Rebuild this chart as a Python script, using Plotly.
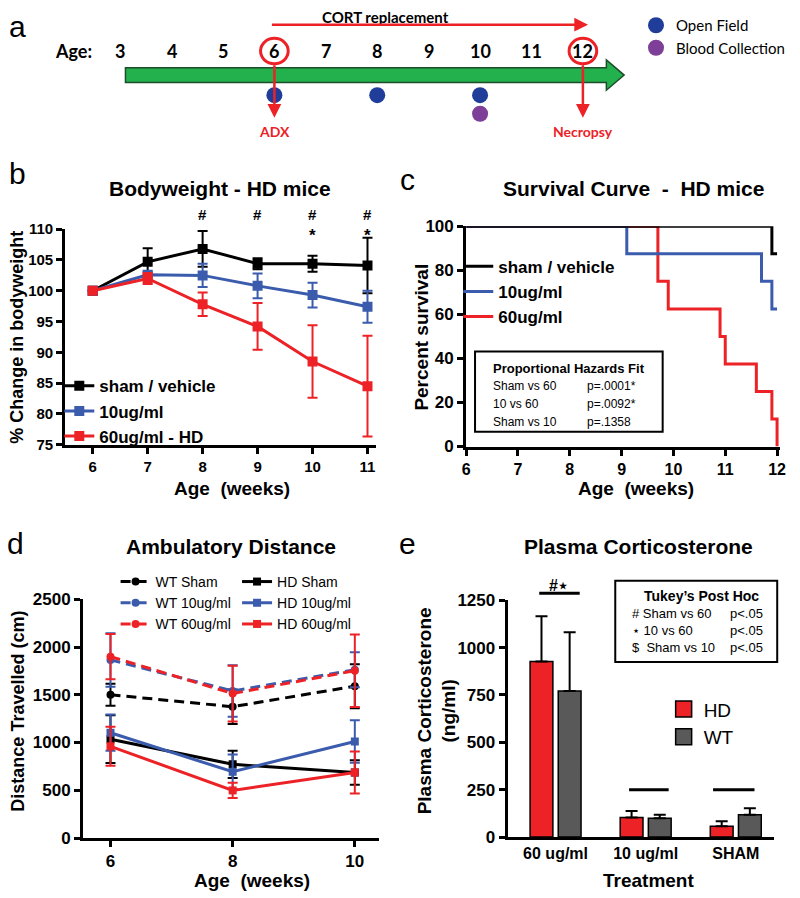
import plotly.graph_objects as go

W, H = 800, 898
def px(x): return x / W
def py(y): return 1 - y / H

FONT = "Liberation Sans, Arial, sans-serif"
FONT_A = "Lato, Open Sans, sans-serif"
RED = "#ec2227"
BLUE = "#3b5bad"
BLACK = "#000000"
GRAY = "#595959"
GREEN = "#22b14c"
DOT_BLUE = "#1f3d99"
PURPLE = "#7e3f98"

# ---------------- data ----------------
# a: timeline
timeline_ages = [3, 4, 5, 6, 7, 8, 9, 10, 11, 12]
open_field_ages = [6, 8, 10]
blood_ages = [10]
adx_age = 6
necropsy_age = 12

# b: bodyweight
bw_weeks = [6, 7, 8, 9, 10, 11]
bw_sham = [100, 104.7, 106.8, 104.4, 104.4, 104.1]
bw_sham_err = [0, 2.2, 2.9, 0.9, 1.3, 4.5]
bw_10 = [100, 102.6, 102.5, 100.8, 99.3, 97.4]
bw_10_err = [0, 0.5, 1.9, 2.0, 2.0, 2.6]
bw_60 = [100, 102.0, 97.8, 94.2, 88.5, 84.5]
bw_60_err = [0, 0.9, 1.9, 3.8, 5.9, 8.2]
bw_hash_weeks = [8, 9, 10, 11]
bw_star_weeks = [10, 11]

# c: survival
surv_sham_t = [6, 11.9, 12]
surv_sham = [100, 87.5, 87.5]
surv_10_t = [6, 9.1, 11.7, 11.9, 12]
surv_10 = [100, 87.5, 75, 62.5, 62.5]
surv_60_t = [6, 9.7, 9.9, 10.9, 11.0, 11.6, 11.9, 12.0]
surv_60 = [100, 75, 62.5, 50, 37.5, 25, 12.5, 0]
hazard_labels = ["Sham vs 60", "10 vs 60", "Sham vs 10"]
hazard_pvals = ["p=.0001*", "p=.0092*", "p=.1358"]

# d: ambulatory distance
amb_weeks = [6, 8, 10]
wt_sham = [1500, 1375, 1590]; wt_sham_err = [115, 180, 230]
wt_10 = [1865, 1540, 1762]; wt_10_err = [280, 270, 182]
wt_60 = [1899, 1513, 1752]; wt_60_err = [236, 292, 380]
hd_sham = [1035, 772, 686]; hd_sham_err = [250, 143, 128]
hd_10 = [1103, 694, 1011]; hd_10_err = [190, 180, 222]
hd_60 = [960, 499, 686]; hd_60_err = [204, 79, 220]

# e: plasma corticosterone
cort_groups = ["60 ug/ml", "10 ug/ml", "SHAM"]
cort_hd = [926, 103, 57]; cort_hd_err = [240, 35, 26]
cort_wt = [771, 100, 118]; cort_wt_err = [310, 18, 34]
tukey_labels = ["# Sham vs 60", "\u22c6 10 vs 60", "$\u00a0 Sham vs 10"]
tukey_pvals = ["p<.05", "p<.05", "p<.05"]

# ---------------- figure ----------------
fig = go.Figure()

# panel a mapping: age -> pixel (linear)
A_SLOPE = 52.07
A_X3 = 117.6
def age_at(pxv):
    return 3 + (pxv - A_X3) / A_SLOPE

fig.add_trace(go.Scatter(x=open_field_ages, y=[88] * len(open_field_ages), mode="markers",
                         marker=dict(size=16, color=DOT_BLUE), name="Open Field",
                         xaxis="x", yaxis="y", legend="legend"))
fig.add_trace(go.Scatter(x=blood_ages, y=[107] * len(blood_ages), mode="markers",
                         marker=dict(size=16, color=PURPLE), name="Blood Collection",
                         xaxis="x", yaxis="y", legend="legend"))

# panel b
def err(arr, color):
    return dict(type="data", array=arr, visible=True, color=color, thickness=2, width=5)

for name, ys, es, col in [("sham / vehicle", bw_sham, bw_sham_err, BLACK),
                          ("10ug/ml", bw_10, bw_10_err, BLUE),
                          ("60ug/ml - HD", bw_60, bw_60_err, RED)]:
    fig.add_trace(go.Scatter(x=bw_weeks, y=ys, error_y=err(es, col), mode="lines+markers",
                             line=dict(color=col, width=3),
                             marker=dict(symbol="square", size=10, color=col),
                             name=name, xaxis="x2", yaxis="y2", legend="legend2"))

# panel c
for name, xs, ys, col, rank in [("60ug/ml", surv_60_t, surv_60, RED, 3),
                                ("10ug/ml", surv_10_t, surv_10, BLUE, 2),
                                ("sham / vehicle", surv_sham_t, surv_sham, BLACK, 1)]:
    fig.add_trace(go.Scatter(x=xs, y=ys, mode="lines", line=dict(color=col, width=3, shape="hv"),
                             name=name, xaxis="x3", yaxis="y3", legend="legend3", legendrank=rank))

# panel d
for name, ys, es, col, dash, sym, lg in [
        ("WT Sham", wt_sham, wt_sham_err, BLACK, "10px,6px", "circle", "legend4"),
        ("WT 10ug/ml", wt_10, wt_10_err, BLUE, "10px,6px", "circle", "legend4"),
        ("WT 60ug/ml", wt_60, wt_60_err, RED, "10px,6px", "circle", "legend4"),
        ("HD Sham", hd_sham, hd_sham_err, BLACK, "solid", "square", "legend5"),
        ("HD 10ug/ml", hd_10, hd_10_err, BLUE, "solid", "square", "legend5"),
        ("HD 60ug/ml", hd_60, hd_60_err, RED, "solid", "square", "legend5")]:
    fig.add_trace(go.Scatter(x=amb_weeks, y=ys, error_y=err(es, col), mode="lines+markers",
                             line=dict(color=col, width=3, dash=dash),
                             marker=dict(symbol=sym, size=8, color=col),
                             name=name, xaxis="x4", yaxis="y4", legend=lg))

# panel e
fig.add_trace(go.Bar(x=cort_groups, y=cort_hd, name="HD", marker=dict(color=RED, line=dict(color="black", width=1.5)),
                     error_y=dict(type="data", array=cort_hd_err, arrayminus=[0] * 3, symmetric=False,
                                  color="black", thickness=2, width=6),
                     xaxis="x5", yaxis="y5", showlegend=False))
fig.add_trace(go.Bar(x=cort_groups, y=cort_wt, name="WT", marker=dict(color=GRAY, line=dict(color="black", width=1.5)),
                     error_y=dict(type="data", array=cort_wt_err, arrayminus=[0] * 3, symmetric=False,
                                  color="black", thickness=2, width=6),
                     xaxis="x5", yaxis="y5", showlegend=False))
for name, col in [("HD", RED), ("WT", GRAY)]:
    fig.add_trace(go.Scatter(x=[None], y=[None], mode="markers", name=name,
                             marker=dict(symbol="square", size=16, color=col, line=dict(color="black", width=1.5)),
                             xaxis="x5", yaxis="y5", legend="legend6"))

# ---------------- axes ----------------
def axstyle(size, **kw):
    d = dict(showline=True, linewidth=3, linecolor="black", ticks="outside", ticklen=6, tickwidth=2.5,
             tickcolor="black", showgrid=False, zeroline=False,
             tickfont=dict(family=FONT, size=size, color="black", weight="bold"))
    d.update(kw)
    return d

layout = dict(
    width=W, height=H, margin=dict(l=0, r=0, t=0, b=0),
    paper_bgcolor="white", plot_bgcolor="rgba(0,0,0,0)",
    barmode="group", bargap=0.375, bargroupgap=0.19,
    font=dict(family=FONT, color="black"),
    xaxis=dict(domain=[0, 1], range=[age_at(0), age_at(W)], visible=False, fixedrange=True),
    yaxis=dict(domain=[py(135), 1], range=[135, 0], visible=False, fixedrange=True),
    xaxis2=axstyle(15, domain=[px(62), px(377)], range=[5.5, 11.16], anchor="y2",
                   tickvals=[6, 7, 8, 9, 10, 11]),
    yaxis2=axstyle(15, domain=[py(445), py(225)], range=[75, 110], anchor="x2",
                   tickvals=[75, 80, 85, 90, 95, 100, 105, 110]),
    xaxis3=axstyle(16, domain=[px(468), px(786)], range=[6, 12.06], anchor="y3",
                   tickvals=[6, 7, 8, 9, 10, 11, 12]),
    yaxis3=axstyle(17, domain=[py(447), py(222)], range=[0, 100], anchor="x3",
                   tickvals=[0, 20, 40, 60, 80, 100]),
    xaxis4=axstyle(17, domain=[px(80), px(380)], range=[5.55, 10.4], anchor="y4",
                   tickvals=[6, 8, 10]),
    yaxis4=axstyle(17, domain=[py(847), py(603)], range=[0, 2500], anchor="x4",
                   tickvals=[0, 500, 1000, 1500, 2000, 2500]),
    xaxis5=axstyle(16, domain=[px(510), px(780)], range=[-0.532, 2.427], anchor="y5",
                   type="category", ticks=""),
    yaxis5=axstyle(17, domain=[py(846), py(604)], range=[0, 1250], anchor="x5",
                   tickvals=[0, 250, 500, 750, 1000, 1250]),
    legend=dict(x=px(640), y=1.0, xanchor="left", yanchor="top", bgcolor="rgba(0,0,0,0)",
                font=dict(family=FONT_A, size=15), tracegroupgap=0),
    legend2=dict(x=px(56), y=py(367), xanchor="left", yanchor="top", bgcolor="rgba(0,0,0,0)",
                 font=dict(family=FONT, size=17, weight="bold")),
    legend3=dict(x=px(460), y=py(245), xanchor="left", yanchor="top", bgcolor="rgba(0,0,0,0)",
                 font=dict(family=FONT, size=17, weight="bold")),
    legend4=dict(x=px(113), y=py(569), xanchor="left", yanchor="top", bgcolor="rgba(0,0,0,0)",
                 font=dict(family=FONT, size=14)),
    legend5=dict(x=px(236), y=py(569), xanchor="left", yanchor="top", bgcolor="rgba(0,0,0,0)",
                 font=dict(family=FONT, size=14)),
    legend6=dict(x=px(668), y=py(696), xanchor="left", yanchor="top", bgcolor="rgba(0,0,0,0)",
                 font=dict(family=FONT, size=19)),
    showlegend=True,
)
fig.update_layout(**layout)

# ---------------- shapes ----------------
shapes = []
# green timeline arrow
x0, xb, xt = age_at(123), age_at(610), age_at(628)
shapes.append(dict(type="path", xref="x", yref="y",
                   path=f"M {x0},60 L {xb},60 L {xb},52 L {xt},67.5 L {xb},83 L {xb},75 L {x0},75 Z",
                   fillcolor=GREEN, line=dict(color="#1e4d2b", width=1.5), layer="below"))
r_age = 14 / A_SLOPE
for a in (adx_age, necropsy_age):
    shapes.append(dict(type="circle", xref="x", yref="y", x0=a - r_age, x1=a + r_age, y0=30, y1=56,
                       line=dict(color=RED, width=3)))
# hazard box
shapes.append(dict(type="rect", xref="paper", yref="paper", x0=px(477), x1=px(667), y0=py(432), y1=py(350),
                   line=dict(color="black", width=2), fillcolor="white", layer="below"))
# tukey box
shapes.append(dict(type="rect", xref="paper", yref="paper", x0=px(619), x1=px(783), y0=py(667), y1=py(584),
                   line=dict(color="black", width=2), fillcolor="white"))
# significance bars in e
shapes.append(dict(type="line", xref="paper", yref="paper", x0=px(542), x1=px(583), y0=py(597), y1=py(597),
                   line=dict(color="black", width=3)))
for xa, xb2 in [(0.816, 1.255), (1.748, 2.208)]:
    shapes.append(dict(type="line", xref="x5", yref="y5", x0=xa, x1=xb2, y0=250, y1=250,
                       line=dict(color="black", width=3)))
fig.update_layout(shapes=shapes)

# ---------------- annotations ----------------
ann = []
def txt(x, y, text, size, bold=False, color="black", family=FONT, xanchor="center", angle=0, xref="paper", yref="paper"):
    ann.append(dict(x=x, y=y, xref=xref, yref=yref, text=text, showarrow=False, xanchor=xanchor, yanchor="middle",
                    textangle=angle, font=dict(family=family, size=size, color=color,
                                               weight="bold" if bold else "normal")))

# panel letters
txt(px(14), py(18), "a", 30)
txt(px(14), py(168), "b", 30)
txt(px(409), py(174), "c", 30)
txt(px(12), py(546), "d", 30)
txt(px(409), py(546), "e", 30)

# panel a
txt(px(70), py(43), "Age:", 18, bold=True, family=FONT_A)
for a in timeline_ages:
    txt(a, 43, str(a), 18, bold=True, family=FONT_A, xref="x", yref="y")
txt(px(386), py(8), "CORT replacement", 15, bold=True, family=FONT_A)
txt(adx_age, 125, "ADX", 14, bold=True, color=RED, family=FONT_A, xref="x", yref="y")
txt(necropsy_age, 125, "Necropsy", 14, bold=True, color=RED, family=FONT_A, xref="x", yref="y")
for a in (adx_age, necropsy_age):
    ann.append(dict(x=a, y=111, xref="x", yref="y", ax=0, ay=-54, text="", showarrow=True,
                    arrowcolor=RED, arrowwidth=2.5, arrowhead=2, arrowsize=1.1))
ann.append(dict(x=necropsy_age + 0.1, y=16, xref="x", yref="y", ax=-(necropsy_age + 0.1 - adx_age) * A_SLOPE, ay=0,
                text="", showarrow=True, arrowcolor=RED, arrowwidth=2.5, arrowhead=2, arrowsize=1.1))

# panel b
txt(px(219), py(183), "Bodyweight - HD mice", 21, bold=True)
for w in bw_hash_weeks:
    txt(w, py(210), "#", 15, bold=True, xref="x2")
for w in bw_star_weeks:
    txt(w, py(231), "*", 17, bold=True, xref="x2")
txt(px(13), py(335), "% Change in bodyweight", 18, bold=True, angle=-90)
txt(px(231), py(490), "Age\u00a0 (weeks)", 19, bold=True)

# panel c
txt(px(637), py(183), "Survival Curve\u00a0 -\u00a0 HD mice", 21, bold=True)
txt(px(423), py(335), "Percent survival", 19, bold=True, angle=-90)
txt(px(640), py(490), "Age\u00a0 (weeks)", 19, bold=True)
txt(px(572), py(367), "Proportional Hazards Fit", 13, bold=True)
for i, (lab, pv) in enumerate(zip(hazard_labels, hazard_pvals)):
    yy = 385 + i * 18.5
    txt(px(493), py(yy), lab, 12, xanchor="left")
    txt(px(588), py(yy), pv, 12, xanchor="left")

# panel d
txt(px(230), py(549), "Ambulatory Distance", 21, bold=True)
txt(px(14), py(717), "Distance Travelled (cm)", 18, bold=True, angle=-90)
txt(px(251), py(890), "Age\u00a0 (weeks)", 19, bold=True)

# panel e
txt(px(643), py(549), "Plasma Corticosterone", 21, bold=True)
txt(px(438), py(717), "Plasma Corticosterone<br>(ng/ml)", 19, bold=True, angle=-90)
txt(px(653), py(890), "Treatment", 19, bold=True)
txt(px(562), py(589), "#\u22c6", 16, bold=True)
txt(px(706), py(600), "Tukey\u2019s Post Hoc", 14, bold=True)
for i, (lab, pv) in enumerate(zip(tukey_labels, tukey_pvals)):
    yy = 618 + i * 17
    txt(px(634), py(yy), lab, 13, xanchor="left")
    txt(px(733), py(yy), pv, 13, xanchor="left")

fig.update_layout(annotations=ann)

fig.write_html("out.html", config={"displayModeBar": False},
               post_script="document.body.style.margin='0';")
